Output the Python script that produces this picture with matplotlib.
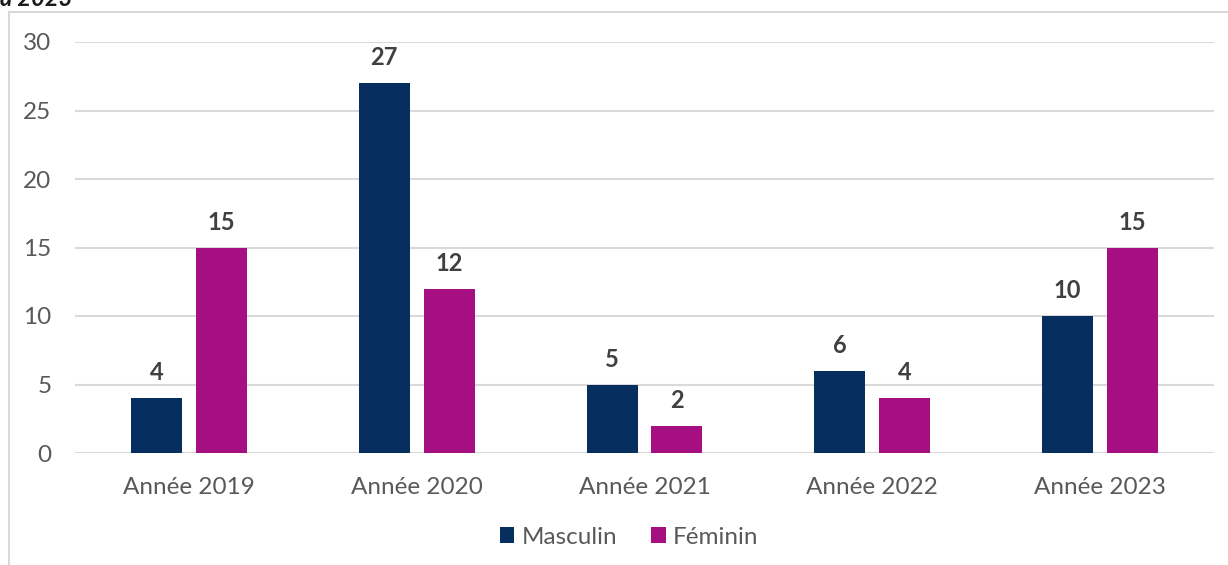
import matplotlib.pyplot as plt
import numpy as np
from matplotlib.lines import Line2D

categories = ["Année 2019", "Année 2020", "Année 2021", "Année 2022", "Année 2023"]
masculin = [4, 27, 5, 6, 10]
feminin = [15, 12, 2, 4, 15]
series_names = ["Masculin", "Féminin"]
colors = ["#062F5F", "#A60F82"]

plt.rcParams["font.family"] = ["Lato", "DejaVu Sans"]

W, H = 1228, 565
fig = plt.figure(figsize=(W / 100, H / 100), dpi=100)

# plot area in pixels: x 75..1214, y 42 (30) .. 453 (0)
left, right, top, bottom = 75, 1214, 42, 453
ax = fig.add_axes([left / W, 1 - bottom / H, (right - left) / W, (bottom - top) / H])

x = np.arange(len(categories))
bw = 0.224
gap = 0.061
b1 = ax.bar(x - (bw + gap) / 2, masculin, bw, color=colors[0], label=series_names[0], zorder=3)
b2 = ax.bar(x + (bw + gap) / 2, feminin, bw, color=colors[1], label=series_names[1], zorder=3)

for bars in (b1, b2):
    ax.bar_label(bars, padding=10, fontsize=17, fontweight="bold", color="#404040")

ax.set_xlim(-0.5, len(categories) - 0.5)
ax.set_ylim(0, 30)
ax.set_yticks(range(0, 31, 5))
ax.set_xticks(x)
ax.set_xticklabels(categories)
ax.tick_params(axis="both", length=0, labelsize=17.5, labelcolor="#595959")
ax.tick_params(axis="y", pad=17)
ax.tick_params(axis="x", pad=17)
ax.yaxis.grid(True, color="#d9d9d9", linewidth=1.5, zorder=0)
for s in ax.spines.values():
    s.set_visible(False)
ax.axhline(0, color="#d9d9d9", linewidth=1.5, zorder=2)

leg = fig.legend(handles=[b1, b2], loc="center", bbox_to_anchor=(629 / W, 1 - 537 / H),
                 ncol=2, frameon=False, prop={"size": 17.5},
                 handlelength=0.6, handleheight=0.6,
                 handletextpad=0.3, columnspacing=1.4, labelcolor="#595959")

# chart border (partly cut off)
fig.add_artist(Line2D([9 / W, 9 / W], [0, 1 - 12 / H], color="#d9d9d9", linewidth=1.5,
                      transform=fig.transFigure))
fig.add_artist(Line2D([9 / W, 1], [1 - 12 / H, 1 - 12 / H], color="#d9d9d9", linewidth=1.5,
                      transform=fig.transFigure))

# cropped title remnant
fig.text(0 / W, 1 - 6 / H, "à 2023", fontsize=17, fontweight="bold", fontstyle="italic",
         color="#1a1a1a", va="baseline", ha="left")

fig.savefig("out.png", dpi=100)
